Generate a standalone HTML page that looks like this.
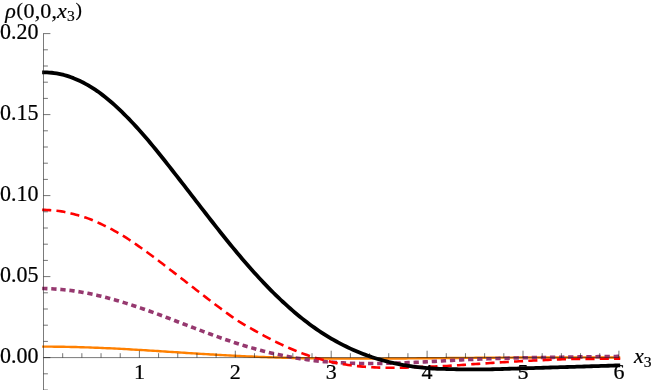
<!DOCTYPE html>
<html><head><meta charset="utf-8"><title>plot</title>
<style>
html,body{margin:0;padding:0;background:#fff;}
body{width:654px;height:390px;overflow:hidden;font-family:"Liberation Serif",serif;}
svg{display:block;will-change:transform;}
text{font-family:"Liberation Serif",serif;font-size:22px;fill:#000;stroke:#000;stroke-width:0.22px;}
</style></head><body>
<svg width="654" height="390" viewBox="0 0 654 390">
<rect width="654" height="390" fill="#fff"/>
<g fill="none" stroke-linejoin="round">
<path d="M42.16,346.64 L44.57,346.64 L46.97,346.65 L49.38,346.65 L51.79,346.67 L54.20,346.69 L56.61,346.71 L59.02,346.74 L61.43,346.77 L63.84,346.81 L66.24,346.85 L68.65,346.89 L71.06,346.94 L73.47,347.00 L75.88,347.06 L78.29,347.12 L80.70,347.19 L83.11,347.26 L85.51,347.34 L87.92,347.42 L90.33,347.50 L92.74,347.59 L95.15,347.68 L97.56,347.77 L99.97,347.87 L102.37,347.97 L104.78,348.08 L107.19,348.19 L109.60,348.30 L112.01,348.42 L114.42,348.54 L116.83,348.66 L119.24,348.78 L121.64,348.91 L124.05,349.04 L126.46,349.17 L128.87,349.30 L131.28,349.44 L133.69,349.58 L136.10,349.72 L138.50,349.86 L140.91,350.01 L143.32,350.16 L145.73,350.30 L148.14,350.45 L150.55,350.60 L152.96,350.75 L155.37,350.91 L157.77,351.06 L160.18,351.21 L162.59,351.37 L165.00,351.53 L167.41,351.68 L169.82,351.84 L172.23,351.99 L174.64,352.15 L177.04,352.31 L179.45,352.46 L181.86,352.62 L184.27,352.77 L186.68,352.93 L189.09,353.08 L191.50,353.24 L193.90,353.39 L196.31,353.54 L198.72,353.69 L201.13,353.84 L203.54,353.99 L205.95,354.14 L208.36,354.28 L210.77,354.43 L213.17,354.57 L215.58,354.71 L217.99,354.85 L220.40,354.99 L222.81,355.12 L225.22,355.25 L227.63,355.38 L230.04,355.51 L232.44,355.64 L234.85,355.76 L237.26,355.89 L239.67,356.01 L242.08,356.12 L244.49,356.24 L246.90,356.35 L249.30,356.46 L251.71,356.57 L254.12,356.67 L256.53,356.77 L258.94,356.87 L261.35,356.97 L263.76,357.06 L266.17,357.15 L268.57,357.24 L270.98,357.32 L273.39,357.41 L275.80,357.49 L278.21,357.56 L280.62,357.64 L283.03,357.71 L285.43,357.78 L287.84,357.84 L290.25,357.90 L292.66,357.96 L295.07,358.02 L297.48,358.08 L299.89,358.13 L302.30,358.18 L304.70,358.23 L307.11,358.27 L309.52,358.31 L311.93,358.35 L314.34,358.39 L316.75,358.42 L319.16,358.45 L321.57,358.48 L323.97,358.51 L326.38,358.53 L328.79,358.56 L331.20,358.58 L333.61,358.60 L336.02,358.61 L338.43,358.63 L340.83,358.64 L343.24,358.65 L345.65,358.66 L348.06,358.66 L350.47,358.67 L352.88,358.67 L355.29,358.67 L357.70,358.67 L360.10,358.67 L362.51,358.67 L364.92,358.67 L367.33,358.66 L369.74,358.65 L372.15,358.64 L374.56,358.64 L376.97,358.62 L379.37,358.61 L381.78,358.60 L384.19,358.59 L386.60,358.57 L389.01,358.56 L391.42,358.54 L393.83,358.52 L396.23,358.51 L398.64,358.49 L401.05,358.47 L403.46,358.45 L405.87,358.43 L408.28,358.41 L410.69,358.39 L413.10,358.37 L415.50,358.35 L417.91,358.32 L420.32,358.30 L422.73,358.28 L425.14,358.26 L427.55,358.24 L429.96,358.21 L432.36,358.19 L434.77,358.17 L437.18,358.15 L439.59,358.12 L442.00,358.10 L444.41,358.08 L446.82,358.06 L449.23,358.03 L451.63,358.01 L454.04,357.99 L456.45,357.97 L458.86,357.95 L461.27,357.93 L463.68,357.91 L466.09,357.89 L468.50,357.87 L470.90,357.85 L473.31,357.83 L475.72,357.81 L478.13,357.79 L480.54,357.78 L482.95,357.76 L485.36,357.74 L487.76,357.73 L490.17,357.71 L492.58,357.69 L494.99,357.68 L497.40,357.66 L499.81,357.65 L502.22,357.64 L504.63,357.62 L507.03,357.61 L509.44,357.60 L511.85,357.59 L514.26,357.57 L516.67,357.56 L519.08,357.55 L521.49,357.54 L523.90,357.53 L526.30,357.52 L528.71,357.52 L531.12,357.51 L533.53,357.50 L535.94,357.49 L538.35,357.49 L540.76,357.48 L543.16,357.47 L545.57,357.47 L547.98,357.46 L550.39,357.46 L552.80,357.45 L555.21,357.45 L557.62,357.44 L560.03,357.44 L562.43,357.44 L564.84,357.43 L567.25,357.43 L569.66,357.43 L572.07,357.43 L574.48,357.42 L576.89,357.42 L579.29,357.42 L581.70,357.42 L584.11,357.42 L586.52,357.42 L588.93,357.42 L591.34,357.42 L593.75,357.42 L596.16,357.42 L598.56,357.42 L600.97,357.42 L603.38,357.42 L605.79,357.42 L608.20,357.42 L610.61,357.43 L613.02,357.43 L615.43,357.43 L617.83,357.43 L620.24,357.43" stroke="#ff8000" stroke-width="2.4"/>
<path d="M42.16,288.57 L44.57,288.56 L46.97,288.62 L49.38,288.71 L51.79,288.82 L54.20,288.95 L56.61,289.11 L59.02,289.30 L61.43,289.50 L63.84,289.73 L66.24,289.99 L68.65,290.27 L71.06,290.57 L73.47,290.90 L75.88,291.25 L78.29,291.62 L80.70,292.01 L83.11,292.43 L85.51,292.87 L87.92,293.33 L90.33,293.81 L92.74,294.32 L95.15,294.84 L97.56,295.39 L99.97,295.95 L102.37,296.54 L104.78,297.14 L107.19,297.77 L109.60,298.41 L112.01,299.07 L114.42,299.75 L116.83,300.45 L119.24,301.16 L121.64,301.89 L124.05,302.62 L126.46,303.37 L128.87,304.13 L131.28,304.90 L133.69,305.69 L136.10,306.49 L138.50,307.30 L140.91,308.12 L143.32,308.95 L145.73,309.79 L148.14,310.65 L150.55,311.51 L152.96,312.39 L155.37,313.27 L157.77,314.15 L160.18,315.05 L162.59,315.95 L165.00,316.86 L167.41,317.77 L169.82,318.69 L172.23,319.61 L174.64,320.53 L177.04,321.45 L179.45,322.38 L181.86,323.31 L184.27,324.23 L186.68,325.16 L189.09,326.09 L191.50,327.01 L193.90,327.93 L196.31,328.85 L198.72,329.77 L201.13,330.68 L203.54,331.58 L205.95,332.49 L208.36,333.38 L210.77,334.27 L213.17,335.15 L215.58,336.02 L217.99,336.89 L220.40,337.75 L222.81,338.59 L225.22,339.43 L227.63,340.26 L230.04,341.07 L232.44,341.88 L234.85,342.67 L237.26,343.45 L239.67,344.22 L242.08,344.98 L244.49,345.72 L246.90,346.45 L249.30,347.17 L251.71,347.87 L254.12,348.56 L256.53,349.23 L258.94,349.89 L261.35,350.53 L263.76,351.16 L266.17,351.77 L268.57,352.36 L270.98,352.94 L273.39,353.51 L275.80,354.05 L278.21,354.58 L280.62,355.10 L283.03,355.60 L285.43,356.08 L287.84,356.54 L290.25,356.99 L292.66,357.43 L295.07,357.84 L297.48,358.24 L299.89,358.62 L302.30,358.99 L304.70,359.34 L307.11,359.68 L309.52,360.00 L311.93,360.30 L314.34,360.59 L316.75,360.86 L319.16,361.12 L321.57,361.36 L323.97,361.59 L326.38,361.80 L328.79,362.00 L331.20,362.19 L333.61,362.36 L336.02,362.52 L338.43,362.67 L340.83,362.80 L343.24,362.92 L345.65,363.03 L348.06,363.12 L350.47,363.21 L352.88,363.28 L355.29,363.34 L357.70,363.39 L360.10,363.44 L362.51,363.47 L364.92,363.49 L367.33,363.50 L369.74,363.51 L372.15,363.50 L374.56,363.49 L376.97,363.47 L379.37,363.44 L381.78,363.41 L384.19,363.37 L386.60,363.32 L389.01,363.27 L391.42,363.21 L393.83,363.14 L396.23,363.07 L398.64,363.00 L401.05,362.92 L403.46,362.83 L405.87,362.74 L408.28,362.65 L410.69,362.56 L413.10,362.46 L415.50,362.36 L417.91,362.26 L420.32,362.15 L422.73,362.04 L425.14,361.91 L427.55,361.79 L429.96,361.65 L432.36,361.52 L434.77,361.38 L437.18,361.24 L439.59,361.10 L442.00,360.95 L444.41,360.81 L446.82,360.67 L449.23,360.53 L451.63,360.39 L454.04,360.26 L456.45,360.13 L458.86,360.00 L461.27,359.88 L463.68,359.77 L466.09,359.66 L468.50,359.56 L470.90,359.46 L473.31,359.36 L475.72,359.26 L478.13,359.17 L480.54,359.07 L482.95,358.98 L485.36,358.90 L487.76,358.81 L490.17,358.73 L492.58,358.65 L494.99,358.57 L497.40,358.49 L499.81,358.42 L502.22,358.35 L504.63,358.28 L507.03,358.21 L509.44,358.15 L511.85,358.08 L514.26,358.02 L516.67,357.97 L519.08,357.91 L521.49,357.86 L523.90,357.81 L526.30,357.76 L528.71,357.71 L531.12,357.66 L533.53,357.62 L535.94,357.58 L538.35,357.54 L540.76,357.50 L543.16,357.47 L545.57,357.43 L547.98,357.40 L550.39,357.36 L552.80,357.33 L555.21,357.30 L557.62,357.26 L560.03,357.23 L562.43,357.19 L564.84,357.15 L567.25,357.10 L569.66,357.06 L572.07,357.02 L574.48,356.98 L576.89,356.95 L579.29,356.91 L581.70,356.88 L584.11,356.85 L586.52,356.81 L588.93,356.78 L591.34,356.75 L593.75,356.72 L596.16,356.69 L598.56,356.66 L600.97,356.63 L603.38,356.60 L605.79,356.57 L608.20,356.54 L610.61,356.51 L613.02,356.48 L615.43,356.45 L617.83,356.42 L620.24,356.41" stroke="#96386f" stroke-width="3.6" stroke-dasharray="5.3 3.8"/>
<path d="M42.16,209.92 L44.57,209.92 L46.97,209.97 L49.38,210.08 L51.79,210.24 L54.20,210.46 L56.61,210.72 L59.02,211.04 L61.43,211.40 L63.84,211.83 L66.24,212.33 L68.65,212.89 L71.06,213.49 L73.47,214.10 L75.88,214.71 L78.29,215.35 L80.70,216.04 L83.11,216.77 L85.51,217.54 L87.92,218.36 L90.33,219.23 L92.74,220.21 L95.15,221.25 L97.56,222.36 L99.97,223.49 L102.37,224.64 L104.78,225.80 L107.19,226.99 L109.60,228.21 L112.01,229.47 L114.42,230.78 L116.83,232.13 L119.24,233.53 L121.64,234.97 L124.05,236.45 L126.46,237.97 L128.87,239.53 L131.28,241.12 L133.69,242.74 L136.10,244.39 L138.50,246.07 L140.91,247.77 L143.32,249.49 L145.73,251.23 L148.14,252.98 L150.55,254.74 L152.96,256.52 L155.37,258.32 L157.77,260.13 L160.18,261.97 L162.59,263.82 L165.00,265.68 L167.41,267.54 L169.82,269.41 L172.23,271.28 L174.64,273.15 L177.04,275.01 L179.45,276.86 L181.86,278.72 L184.27,280.58 L186.68,282.45 L189.09,284.32 L191.50,286.20 L193.90,288.07 L196.31,289.94 L198.72,291.81 L201.13,293.68 L203.54,295.54 L205.95,297.39 L208.36,299.24 L210.77,301.08 L213.17,302.91 L215.58,304.73 L217.99,306.53 L220.40,308.33 L222.81,310.11 L225.22,311.87 L227.63,313.62 L230.04,315.35 L232.44,317.07 L234.85,318.76 L237.26,320.41 L239.67,321.96 L242.08,323.43 L244.49,324.85 L246.90,326.22 L249.30,327.56 L251.71,328.90 L254.12,330.25 L256.53,331.61 L258.94,332.94 L261.35,334.25 L263.76,335.55 L266.17,336.84 L268.57,338.11 L270.98,339.37 L273.39,340.60 L275.80,341.80 L278.21,342.98 L280.62,344.13 L283.03,345.25 L285.43,346.36 L287.84,347.43 L290.25,348.49 L292.66,349.52 L295.07,350.52 L297.48,351.50 L299.89,352.44 L302.30,353.35 L304.70,354.23 L307.11,355.08 L309.52,355.90 L311.93,356.68 L314.34,357.44 L316.75,358.16 L319.16,358.86 L321.57,359.52 L323.97,360.15 L326.38,360.76 L328.79,361.33 L331.20,361.88 L333.61,362.40 L336.02,362.89 L338.43,363.36 L340.83,363.79 L343.24,364.20 L345.65,364.59 L348.06,364.95 L350.47,365.28 L352.88,365.59 L355.29,365.88 L357.70,366.14 L360.10,366.39 L362.51,366.61 L364.92,366.81 L367.33,366.98 L369.74,367.14 L372.15,367.28 L374.56,367.40 L376.97,367.51 L379.37,367.59 L381.78,367.66 L384.19,367.72 L386.60,367.75 L389.01,367.78 L391.42,367.79 L393.83,367.78 L396.23,367.76 L398.64,367.73 L401.05,367.69 L403.46,367.64 L405.87,367.58 L408.28,367.50 L410.69,367.42 L413.10,367.33 L415.50,367.23 L417.91,367.13 L420.32,367.02 L422.73,366.92 L425.14,366.83 L427.55,366.73 L429.96,366.64 L432.36,366.55 L434.77,366.46 L437.18,366.36 L439.59,366.27 L442.00,366.16 L444.41,366.05 L446.82,365.94 L449.23,365.81 L451.63,365.67 L454.04,365.52 L456.45,365.36 L458.86,365.19 L461.27,365.02 L463.68,364.85 L466.09,364.68 L468.50,364.51 L470.90,364.34 L473.31,364.17 L475.72,364.00 L478.13,363.83 L480.54,363.67 L482.95,363.50 L485.36,363.34 L487.76,363.18 L490.17,363.02 L492.58,362.87 L494.99,362.71 L497.40,362.56 L499.81,362.41 L502.22,362.26 L504.63,362.11 L507.03,361.97 L509.44,361.83 L511.85,361.69 L514.26,361.56 L516.67,361.43 L519.08,361.30 L521.49,361.17 L523.90,361.05 L526.30,360.93 L528.71,360.80 L531.12,360.68 L533.53,360.56 L535.94,360.44 L538.35,360.32 L540.76,360.21 L543.16,360.09 L545.57,359.98 L547.98,359.87 L550.39,359.77 L552.80,359.67 L555.21,359.57 L557.62,359.48 L560.03,359.39 L562.43,359.30 L564.84,359.22 L567.25,359.15 L569.66,359.08 L572.07,359.02 L574.48,358.98 L576.89,358.94 L579.29,358.92 L581.70,358.90 L584.11,358.89 L586.52,358.88 L588.93,358.88 L591.34,358.87 L593.75,358.86 L596.16,358.84 L598.56,358.83 L600.97,358.81 L603.38,358.80 L605.79,358.79 L608.20,358.78 L610.61,358.76 L613.02,358.75 L615.43,358.74 L617.83,358.73 L620.24,358.71" stroke="#ff0000" stroke-width="2.6" stroke-dasharray="9.1 5.2"/>
<path d="M42.16,72.38 L44.57,72.38 L46.97,72.42 L49.38,72.54 L51.79,72.74 L54.20,73.03 L56.61,73.39 L59.02,73.83 L61.43,74.35 L63.84,74.96 L66.24,75.64 L68.65,76.40 L71.06,77.24 L73.47,78.15 L75.88,79.14 L78.29,80.21 L80.70,81.34 L83.11,82.55 L85.51,83.82 L87.92,85.16 L90.33,86.59 L92.74,88.08 L95.15,89.66 L97.56,91.31 L99.97,93.05 L102.37,94.87 L104.78,96.75 L107.19,98.70 L109.60,100.72 L112.01,102.80 L114.42,104.93 L116.83,107.13 L119.24,109.39 L121.64,111.70 L124.05,114.06 L126.46,116.48 L128.87,118.95 L131.28,121.46 L133.69,124.02 L136.10,126.63 L138.50,129.28 L140.91,131.98 L143.32,134.72 L145.73,137.51 L148.14,140.33 L150.55,143.20 L152.96,146.10 L155.37,149.04 L157.77,152.00 L160.18,154.99 L162.59,158.01 L165.00,161.04 L167.41,164.09 L169.82,167.15 L172.23,170.23 L174.64,173.31 L177.04,176.39 L179.45,179.48 L181.86,182.58 L184.27,185.69 L186.68,188.80 L189.09,191.92 L191.50,195.04 L193.90,198.17 L196.31,201.29 L198.72,204.42 L201.13,207.54 L203.54,210.65 L205.95,213.76 L208.36,216.87 L210.77,219.96 L213.17,223.04 L215.58,226.11 L217.99,229.16 L220.40,232.20 L222.81,235.22 L225.22,238.23 L227.63,241.21 L230.04,244.18 L232.44,247.12 L234.85,250.04 L237.26,252.94 L239.67,255.81 L242.08,258.65 L244.49,261.46 L246.90,264.25 L249.30,267.01 L251.71,269.73 L254.12,272.42 L256.53,275.09 L258.94,277.71 L261.35,280.31 L263.76,282.86 L266.17,285.39 L268.57,287.87 L270.98,290.33 L273.39,292.74 L275.80,295.11 L278.21,297.45 L280.62,299.75 L283.03,302.00 L285.43,304.22 L287.84,306.40 L290.25,308.54 L292.66,310.64 L295.07,312.70 L297.48,314.71 L299.89,316.69 L302.30,318.62 L304.70,320.51 L307.11,322.36 L309.52,324.17 L311.93,325.93 L314.34,327.65 L316.75,329.33 L319.16,330.97 L321.57,332.56 L323.97,334.12 L326.38,335.63 L328.79,337.10 L331.20,338.53 L333.61,339.93 L336.02,341.28 L338.43,342.59 L340.83,343.87 L343.24,345.11 L345.65,346.31 L348.06,347.47 L350.47,348.60 L352.88,349.69 L355.29,350.75 L357.70,351.77 L360.10,352.75 L362.51,353.71 L364.92,354.62 L367.33,355.51 L369.74,356.36 L372.15,357.18 L374.56,357.96 L376.97,358.72 L379.37,359.44 L381.78,360.13 L384.19,360.79 L386.60,361.43 L389.01,362.03 L391.42,362.60 L393.83,363.15 L396.23,363.66 L398.64,364.16 L401.05,364.62 L403.46,365.06 L405.87,365.47 L408.28,365.86 L410.69,366.23 L413.10,366.57 L415.50,366.89 L417.91,367.19 L420.32,367.47 L422.73,367.72 L425.14,367.96 L427.55,368.17 L429.96,368.35 L432.36,368.51 L434.77,368.64 L437.18,368.74 L439.59,368.83 L442.00,368.90 L444.41,368.96 L446.82,369.02 L449.23,369.07 L451.63,369.12 L454.04,369.18 L456.45,369.24 L458.86,369.31 L461.27,369.36 L463.68,369.40 L466.09,369.43 L468.50,369.45 L470.90,369.46 L473.31,369.47 L475.72,369.46 L478.13,369.45 L480.54,369.43 L482.95,369.40 L485.36,369.37 L487.76,369.33 L490.17,369.29 L492.58,369.24 L494.99,369.18 L497.40,369.12 L499.81,369.06 L502.22,368.99 L504.63,368.92 L507.03,368.84 L509.44,368.77 L511.85,368.70 L514.26,368.63 L516.67,368.55 L519.08,368.48 L521.49,368.41 L523.90,368.34 L526.30,368.26 L528.71,368.19 L531.12,368.12 L533.53,368.04 L535.94,367.96 L538.35,367.89 L540.76,367.81 L543.16,367.73 L545.57,367.65 L547.98,367.57 L550.39,367.50 L552.80,367.43 L555.21,367.35 L557.62,367.28 L560.03,367.21 L562.43,367.14 L564.84,367.07 L567.25,367.00 L569.66,366.93 L572.07,366.86 L574.48,366.79 L576.89,366.72 L579.29,366.64 L581.70,366.56 L584.11,366.49 L586.52,366.41 L588.93,366.33 L591.34,366.26 L593.75,366.18 L596.16,366.10 L598.56,366.03 L600.97,365.95 L603.38,365.88 L605.79,365.80 L608.20,365.73 L610.61,365.65 L613.02,365.58 L615.43,365.50 L617.83,365.43 L620.24,365.34" stroke="#000" stroke-width="3.8"/>
</g>
<g stroke="#1a1a1a" stroke-width="0.58" fill="none">
<line x1="43.50" y1="33.3" x2="43.50" y2="390"/>
<line x1="43.50" y1="357.60" x2="619.2" y2="357.60"/>
</g>
<g stroke="#000" stroke-width="0.55" fill="none">
<line x1="62.68" y1="357.60" x2="62.68" y2="353.20"/>
<line x1="81.86" y1="357.60" x2="81.86" y2="353.20"/>
<line x1="101.04" y1="357.60" x2="101.04" y2="353.20"/>
<line x1="120.22" y1="357.60" x2="120.22" y2="353.20"/>
<line x1="139.40" y1="357.60" x2="139.40" y2="350.70"/>
<line x1="158.58" y1="357.60" x2="158.58" y2="353.20"/>
<line x1="177.76" y1="357.60" x2="177.76" y2="353.20"/>
<line x1="196.94" y1="357.60" x2="196.94" y2="353.20"/>
<line x1="216.12" y1="357.60" x2="216.12" y2="353.20"/>
<line x1="235.30" y1="357.60" x2="235.30" y2="350.70"/>
<line x1="254.48" y1="357.60" x2="254.48" y2="353.20"/>
<line x1="273.66" y1="357.60" x2="273.66" y2="353.20"/>
<line x1="292.84" y1="357.60" x2="292.84" y2="353.20"/>
<line x1="312.02" y1="357.60" x2="312.02" y2="353.20"/>
<line x1="331.20" y1="357.60" x2="331.20" y2="350.70"/>
<line x1="350.38" y1="357.60" x2="350.38" y2="353.20"/>
<line x1="369.56" y1="357.60" x2="369.56" y2="353.20"/>
<line x1="388.74" y1="357.60" x2="388.74" y2="353.20"/>
<line x1="407.92" y1="357.60" x2="407.92" y2="353.20"/>
<line x1="427.10" y1="357.60" x2="427.10" y2="350.70"/>
<line x1="446.28" y1="357.60" x2="446.28" y2="353.20"/>
<line x1="465.46" y1="357.60" x2="465.46" y2="353.20"/>
<line x1="484.64" y1="357.60" x2="484.64" y2="353.20"/>
<line x1="503.82" y1="357.60" x2="503.82" y2="353.20"/>
<line x1="523.00" y1="357.60" x2="523.00" y2="350.70"/>
<line x1="542.18" y1="357.60" x2="542.18" y2="353.20"/>
<line x1="561.36" y1="357.60" x2="561.36" y2="353.20"/>
<line x1="580.54" y1="357.60" x2="580.54" y2="353.20"/>
<line x1="599.72" y1="357.60" x2="599.72" y2="353.20"/>
<line x1="618.90" y1="357.60" x2="618.90" y2="350.70"/>
<line x1="43.50" y1="390.00" x2="47.90" y2="390.00"/>
<line x1="43.50" y1="373.80" x2="47.90" y2="373.80"/>
<line x1="43.50" y1="357.60" x2="50.40" y2="357.60"/>
<line x1="43.50" y1="341.40" x2="47.90" y2="341.40"/>
<line x1="43.50" y1="325.20" x2="47.90" y2="325.20"/>
<line x1="43.50" y1="309.00" x2="47.90" y2="309.00"/>
<line x1="43.50" y1="292.80" x2="47.90" y2="292.80"/>
<line x1="43.50" y1="276.60" x2="50.40" y2="276.60"/>
<line x1="43.50" y1="260.40" x2="47.90" y2="260.40"/>
<line x1="43.50" y1="244.20" x2="47.90" y2="244.20"/>
<line x1="43.50" y1="228.00" x2="47.90" y2="228.00"/>
<line x1="43.50" y1="211.80" x2="47.90" y2="211.80"/>
<line x1="43.50" y1="195.60" x2="50.40" y2="195.60"/>
<line x1="43.50" y1="179.40" x2="47.90" y2="179.40"/>
<line x1="43.50" y1="163.20" x2="47.90" y2="163.20"/>
<line x1="43.50" y1="147.00" x2="47.90" y2="147.00"/>
<line x1="43.50" y1="130.80" x2="47.90" y2="130.80"/>
<line x1="43.50" y1="114.60" x2="50.40" y2="114.60"/>
<line x1="43.50" y1="98.40" x2="47.90" y2="98.40"/>
<line x1="43.50" y1="82.20" x2="47.90" y2="82.20"/>
<line x1="43.50" y1="66.00" x2="47.90" y2="66.00"/>
<line x1="43.50" y1="49.80" x2="47.90" y2="49.80"/>
<line x1="43.50" y1="33.60" x2="50.40" y2="33.60"/>
</g>
<g><text x="139.40" y="378.5" text-anchor="middle">1</text><text x="235.30" y="378.5" text-anchor="middle">2</text><text x="331.20" y="378.5" text-anchor="middle">3</text><text x="427.10" y="378.5" text-anchor="middle">4</text><text x="523.00" y="378.5" text-anchor="middle">5</text><text x="618.90" y="378.5" text-anchor="middle">6</text><text x="38.4" y="363.50" transform="matrix(1 0 0 1.020 0 -7.270)" text-anchor="end">0.00</text><text x="38.4" y="282.50" transform="matrix(1 0 0 1.020 0 -5.650)" text-anchor="end">0.05</text><text x="38.4" y="201.50" transform="matrix(1 0 0 1.020 0 -4.030)" text-anchor="end">0.10</text><text x="38.4" y="120.50" transform="matrix(1 0 0 1.020 0 -2.410)" text-anchor="end">0.15</text><text x="38.4" y="39.50" transform="matrix(1 0 0 1.020 0 -0.790)" text-anchor="end">0.20</text></g>
<text x="5.3" y="17.5" letter-spacing="0.15"><tspan font-style="italic">&#961;</tspan><tspan font-size="19.3px" dy="-1.2" dx="0.4">(</tspan><tspan dy="1.2" dx="0.5">0,0,</tspan><tspan font-style="italic">x</tspan><tspan font-size="15.5px" dy="3.4">3</tspan><tspan font-size="19.3px" dy="-4.6" dx="0.5">)</tspan></text>
<text x="634" y="363"><tspan font-style="italic">x</tspan><tspan font-size="15.5px" dy="3.6">3</tspan></text>
</svg>
</body></html>
